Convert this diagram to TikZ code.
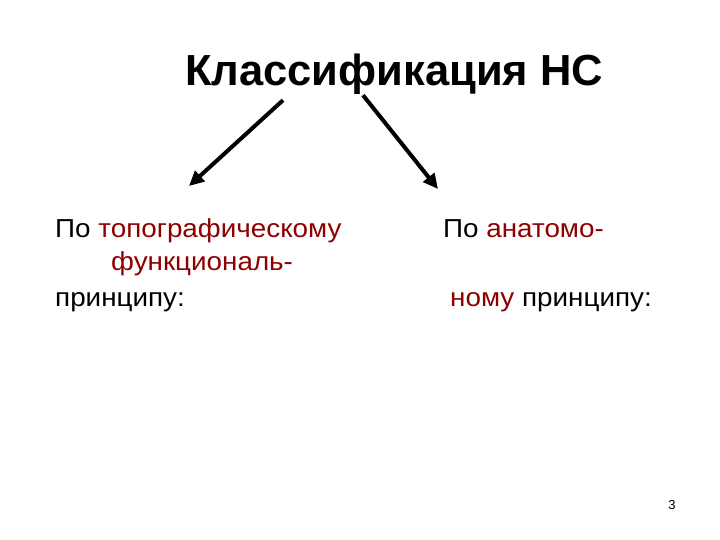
\documentclass[tikz,border=0pt]{standalone}
\usepackage{fontspec}
\setmainfont{Liberation Sans}
\newfontfamily\widefont[FakeStretch=1.07]{Liberation Sans}
\usetikzlibrary{arrows.meta}
\definecolor{termred}{RGB}{140,0,0}
\begin{document}
\begin{tikzpicture}[x=1pt,y=-1pt,heading/.style={font=\fontsize{43.5}{50}\selectfont\bfseries,inner sep=0pt,anchor=base west},
	body/.style={font=\widefont\fontsize{26}{30}\selectfont,inner sep=0pt,anchor=base west},
	pointer/.style={line width=4pt,-{Triangle[length=15pt,width=14pt]}}]
	\useasboundingbox (0,0) rectangle (720,540);
	\node[heading] (title) at (185,86) {Классификация НС};
	\node[body] (left1) at (55,237) {По \textcolor{termred}{топографическому}};
	\node[body] (left2) at (111,270) {\textcolor{termred}{функциональ-}};
	\node[body] (left3) at (55,306) {принципу:};
	\node[body] (right1) at (443,237) {По \textcolor{termred}{анатомо-}};
	\node[body] (right2) at (450,306) {\textcolor{termred}{ному} принципу:};
	\node[font=\fontsize{13}{15}\selectfont,inner sep=0pt] (page) at (672,505) {3};
	\coordinate (leftend) at (189,186);
	\coordinate (rightend) at (438,189);
	\draw[pointer] (title.south west) ++(98,5) -- (leftend);
	\draw[pointer] (title.south west) ++(178,0) -- (rightend);
\end{tikzpicture}
\end{document}
